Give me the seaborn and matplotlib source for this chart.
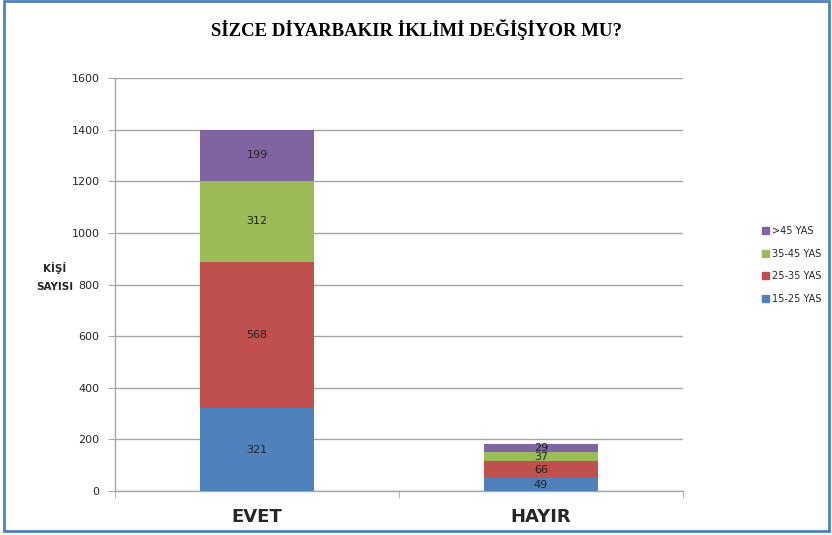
import numpy as np
import pandas as pd
import seaborn as sns
import matplotlib.pyplot as plt
from matplotlib.patches import Patch, Rectangle

# =========================================================
# DATA
# =========================================================

categories = ["EVET", "HAYIR"]
age_groups = ["15-25 YAS", "25-35 YAS", "35-45 YAS", ">45 YAS"]
vals_15_25 = [321, 49]
vals_25_35 = [568, 66]
vals_35_45 = [312, 37]
vals_45_up = [199, 29]
colors = ["#4F81BD", "#C0504D", "#9BBB59", "#8064A2"]

layers = [vals_15_25, vals_25_35, vals_35_45, vals_45_up]
cum = np.cumsum(np.array(layers), axis=0)

# =========================================================
# FIGURE
# =========================================================

sns.set_style("white")
plt.rcParams['font.family'] = ['DejaVu Sans']

fig = plt.figure(figsize=(8.32, 5.35), dpi=100)
ax = fig.add_axes([0.1382, 0.0822, 0.6827, 0.7720])

# draw cumulative bars from top layer down so each covers the next
for i in range(len(layers) - 1, -1, -1):
    df = pd.DataFrame({"cat": categories, "val": cum[i]})
    sns.barplot(
        data=df,
        x="cat",
        y="val",
        color=colors[i],
        saturation=1,
        width=0.4,
        linewidth=0,
        edgecolor="none",
        ax=ax,
        zorder=3
    )

# value labels
for i, layer in enumerate(layers):
    for j, v in enumerate(layer):
        center = cum[i][j] - v / 2
        ax.text(j, center, str(v), ha="center", va="center",
                fontsize=8, color="#222222", zorder=5)

ax.set_ylim(0, 1600)
ax.set_xlim(-0.5, 1.5)
ax.set_yticks(range(0, 1601, 200))
ax.yaxis.grid(True, color="#A6A6A6", linewidth=1, zorder=0)
ax.set_axisbelow(True)

ax.set_xlabel("")
ax.set_ylabel("")
ax.set_xticks([0, 1])
ax.set_xticklabels(categories, fontsize=13, fontweight="bold")
ax.tick_params(axis="x", length=0, pad=12)
ax.tick_params(axis="y", labelsize=8, length=5, color="#A6A6A6",
               direction="out", left=True, pad=6)

# minor x ticks at category edges
ax.set_xticks([-0.5, 0.5, 1.5], minor=True)
ax.tick_params(axis="x", which="minor", length=5, color="#A6A6A6",
               direction="out", bottom=True)

for s in ["top", "right"]:
    ax.spines[s].set_visible(False)
for s in ["left", "bottom"]:
    ax.spines[s].set_color("#A6A6A6")
    ax.spines[s].set_linewidth(1)

# =========================================================
# TEXTS
# =========================================================

fig.text(0.5, 0.945, "SİZCE DİYARBAKIR İKLİMİ DEĞİŞİYOR MU?",
         ha="center", va="center", fontsize=13.5, fontweight="bold",
         family="Liberation Serif", color="black")

fig.text(0.066, 0.483, "KİŞİ\nSAYISI", ha="center", va="center",
         fontsize=7.5, fontweight="bold", linespacing=2.0)

handles = [Patch(color=colors[i], label=age_groups[i])
           for i in range(len(age_groups) - 1, -1, -1)]
fig.legend(
    handles=handles,
    loc="center left",
    bbox_to_anchor=(0.905, 0.505),
    frameon=False,
    fontsize=7,
    handlelength=0.7,
    handleheight=0.7,
    handletextpad=0.4,
    labelspacing=1.3
)

# blue frame around the chart
fig.patches.append(Rectangle((0.005, 0.008), 0.991, 0.99,
                             transform=fig.transFigure, fill=False,
                             edgecolor="#4F81BD", linewidth=2))

plt.savefig("out.png", dpi=100)
plt.close()
